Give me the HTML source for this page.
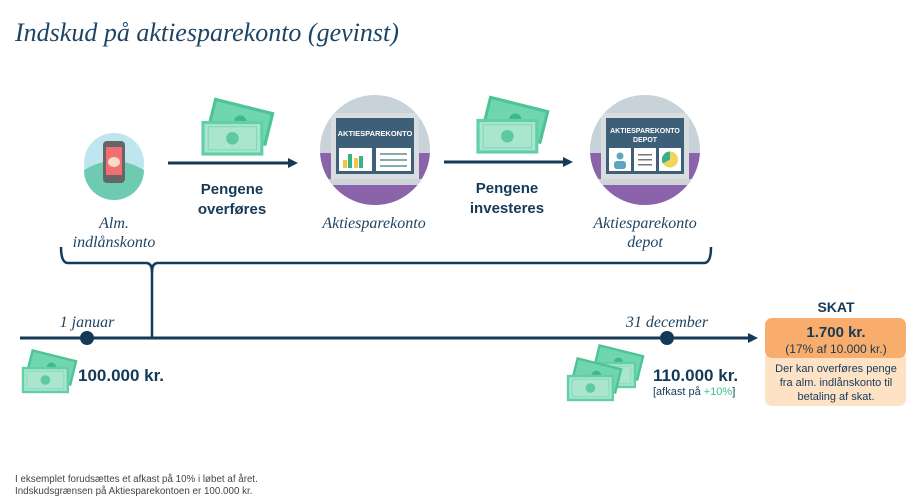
<!DOCTYPE html>
<html><head><meta charset="utf-8"><style>
html,body{margin:0;padding:0;background:#fff;}
svg{display:block;}
.serif{font-family:"Liberation Serif",serif;font-style:italic;fill:#1e4464;}
.sans{font-family:"Liberation Sans",sans-serif;fill:#153a57;}
</style></head><body>
<svg width="910" height="502" viewBox="0 0 910 502" xmlns="http://www.w3.org/2000/svg">
<defs>
<g id="bill">
<rect x="0" y="0" width="56" height="30" fill="#a9e5cf" stroke="#62cfa7" stroke-width="3"/>
<rect x="5" y="4" width="46" height="22" fill="none" stroke="#7fd9b8" stroke-width="1"/>
<circle cx="28" cy="15" r="6" fill="#5fc9a0"/>
</g>
<g id="money">
<g transform="translate(12,-12) rotate(14)"><rect x="0" y="0" width="56" height="30" fill="#6fd6b0" stroke="#4fc398" stroke-width="3"/><circle cx="28" cy="15" r="6" fill="#3fb888"/></g>
<use href="#bill" x="0" y="10"/>
</g>
</defs>

<text x="15" y="41" class="serif" font-size="26">Indskud på aktiesparekonto (gevinst)</text>

<circle cx="114" cy="163" r="30" fill="#bfe6ef"/>
<path d="M84,170 Q114,152 144,170 A30,30 0 0 1 84,170Z" fill="#6ccbb0"/>
<rect x="103" y="141" width="22" height="42" rx="4" fill="#666"/>
<rect x="106" y="147" width="16" height="28" fill="#ef6f73"/>
<ellipse cx="114" cy="162" rx="6" ry="5" fill="#f7dcc8"/>

<line x1="168" y1="163" x2="290" y2="163" stroke="#153a57" stroke-width="3"/>
<polygon points="288,158 298,163 288,168" fill="#153a57"/>
<use href="#money" transform="translate(203,112) scale(1.05)"/>
<text x="232" y="194" class="sans" font-size="15" font-weight="bold" text-anchor="middle">Pengene</text>
<text x="232" y="214" class="sans" font-size="15" font-weight="bold" text-anchor="middle">overføres</text>

<clipPath id="c2"><circle cx="375" cy="150" r="55"/></clipPath>
<g clip-path="url(#c2)">
<rect x="320" y="95" width="110" height="110" fill="#c7d2d9"/>
<rect x="320" y="153" width="110" height="55" fill="#8b63ab"/>
<rect x="331" y="113" width="88" height="66" fill="#d9dde0"/>
<rect x="320" y="179" width="110" height="6" fill="#cfd4d8"/>
<rect x="336" y="118" width="78" height="56" fill="#3d5f77"/>
<text x="375" y="136" class="sans" font-size="7.5" font-weight="bold" text-anchor="middle" style="fill:#fff">AKTIESPAREKONTO</text>
<rect x="339" y="148" width="33" height="23" fill="#fff"/>
<rect x="376" y="148" width="35" height="23" fill="#fff"/>
<rect x="343" y="160" width="4" height="8" fill="#f1c93c"/><rect x="348" y="154" width="4" height="14" fill="#36b38a"/>
<rect x="354" y="158" width="4" height="10" fill="#f1c93c"/><rect x="359" y="156" width="4" height="12" fill="#36b38a"/>
<rect x="380" y="153" width="27" height="2" fill="#8aa"/><rect x="380" y="159" width="27" height="2" fill="#8aa"/><rect x="380" y="165" width="27" height="2" fill="#8aa"/>
</g>
<text x="374" y="228" class="serif" font-size="16" text-anchor="middle">Aktiesparekonto</text>

<line x1="444" y1="162" x2="565" y2="162" stroke="#153a57" stroke-width="3"/>
<polygon points="563,157 573,162 563,167" fill="#153a57"/>
<use href="#money" transform="translate(478,110) scale(1.05)"/>
<text x="507" y="193" class="sans" font-size="15" font-weight="bold" text-anchor="middle">Pengene</text>
<text x="507" y="213" class="sans" font-size="15" font-weight="bold" text-anchor="middle">investeres</text>

<clipPath id="c3"><circle cx="645" cy="150" r="55"/></clipPath>
<g clip-path="url(#c3)">
<rect x="590" y="95" width="110" height="110" fill="#c7d2d9"/>
<rect x="590" y="153" width="110" height="55" fill="#8b63ab"/>
<rect x="601" y="113" width="88" height="66" fill="#d9dde0"/>
<rect x="590" y="179" width="110" height="6" fill="#cfd4d8"/>
<rect x="606" y="118" width="78" height="56" fill="#3d5f77"/>
<text x="645" y="133" class="sans" font-size="7" font-weight="bold" text-anchor="middle" style="fill:#fff">AKTIESPAREKONTO</text>
<text x="645" y="142" class="sans" font-size="7" font-weight="bold" text-anchor="middle" style="fill:#fff">DEPOT</text>
<rect x="609" y="148" width="22" height="23" fill="#fff"/>
<rect x="634" y="148" width="22" height="23" fill="#fff"/>
<rect x="659" y="148" width="22" height="23" fill="#fff"/>
<circle cx="620" cy="156" r="3.5" fill="#5aa6c0"/><rect x="614" y="161" width="12" height="8" rx="3" fill="#5aa6c0"/>
<rect x="638" y="154" width="14" height="1.5" fill="#777"/><rect x="638" y="159" width="14" height="1.5" fill="#777"/><rect x="638" y="164" width="14" height="1.5" fill="#777"/>
<circle cx="670" cy="159.5" r="8" fill="#f1d45a"/><path d="M670,159.5 L670,151.5 A8,8 0 0 0 663,163.5Z" fill="#36b38a"/>
</g>
<text x="645" y="228" class="serif" font-size="16" text-anchor="middle">Aktiesparekonto</text>
<text x="645" y="247" class="serif" font-size="16" text-anchor="middle">depot</text>

<text x="114" y="228" class="serif" font-size="16" text-anchor="middle">Alm.</text>
<text x="114" y="247" class="serif" font-size="16" text-anchor="middle">indlånskonto</text>

<path d="M61,247 Q61,263 68,263 L146,263 Q152,263 152,272 Q152,263 158,263 L704,263 Q711,263 711,247" fill="none" stroke="#153a57" stroke-width="2.5"/>
<line x1="152" y1="270" x2="152" y2="338" stroke="#153a57" stroke-width="2.5"/>

<line x1="20" y1="338" x2="750" y2="338" stroke="#153a57" stroke-width="3"/>
<polygon points="748,333 758,338 748,343" fill="#153a57"/>
<circle cx="87" cy="338" r="7" fill="#153a57"/>
<circle cx="667" cy="338" r="7" fill="#153a57"/>
<text x="87" y="327" class="serif" font-size="16" text-anchor="middle">1 januar</text>
<text x="667" y="327" class="serif" font-size="16" text-anchor="middle">31 december</text>

<use href="#money" transform="translate(23,360) scale(0.8)"/>
<text x="78" y="381" class="sans" font-size="17" font-weight="bold">100.000 kr.</text>

<use href="#money" transform="translate(590,355) scale(0.8)"/>
<use href="#money" transform="translate(568,368) scale(0.8)"/>
<text x="653" y="381" class="sans" font-size="17" font-weight="bold">110.000 kr.</text>
<text x="653" y="395" class="sans" font-size="11">[afkast på <tspan style="fill:#3cc08f">+10%</tspan>]</text>

<text x="836" y="312" class="sans" font-size="14" font-weight="bold" text-anchor="middle">SKAT</text>
<rect x="765" y="352" width="141" height="54" rx="7" fill="#fde2c6"/>
<rect x="765" y="318" width="141" height="40" rx="7" fill="#f9ad6c"/>
<text x="836" y="337" class="sans" font-size="15" font-weight="bold" text-anchor="middle">1.700 kr.</text>
<text x="836" y="353" class="sans" font-size="12" text-anchor="middle">(17% af 10.000 kr.)</text>
<text x="836" y="372" class="sans" font-size="11" text-anchor="middle">Der kan overføres penge</text>
<text x="836" y="386" class="sans" font-size="11" text-anchor="middle">fra alm. indlånskonto til</text>
<text x="836" y="400" class="sans" font-size="11" text-anchor="middle">betaling af skat.</text>

<text x="15" y="482" class="sans" font-size="9.8" style="fill:#444">I eksemplet forudsættes et afkast på 10% i løbet af året.</text>
<text x="15" y="494" class="sans" font-size="9.8" style="fill:#444">Indskudsgrænsen på Aktiesparekontoen er 100.000 kr.</text>
</svg>
</body></html>
